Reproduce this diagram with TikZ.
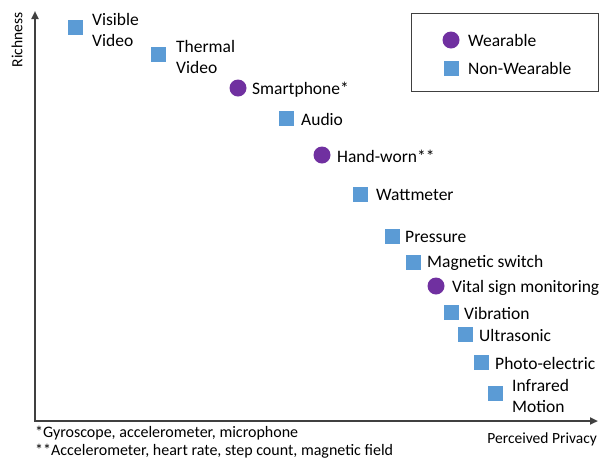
\documentclass[tikz,border=0pt]{standalone}
\usepackage{fontspec}
\setmainfont{Carlito}
\usetikzlibrary{arrows.meta}
\definecolor{nwblue}{HTML}{5B9BD5}
\definecolor{wpurple}{HTML}{7030A0}
\definecolor{axisgray}{HTML}{404040}
\begin{document}
\begin{tikzpicture}[x=1pt,y=-1pt,
  sq/.style={fill=nwblue,minimum size=15pt,inner sep=0pt},
  dot/.style={circle,fill=wpurple,minimum size=17pt,inner sep=0pt},
  lbl/.style={anchor=west,inner sep=0pt,font=\fontsize{17.5}{21.5}\selectfont,align=left},
  note/.style={anchor=west,inner sep=0pt,font=\fontsize{16}{18}\selectfont},
  axis/.style={draw=axisgray,line width=2pt,-{Triangle[length=8pt,width=7pt]}}]
\useasboundingbox (0,0) rectangle (600,459);
% axes
\coordinate (o) at (35,421);
\coordinate (ytop) at (35,11);
\coordinate (xend) at (598,421);
\draw[axis] (o) -- (ytop);
\draw[axis] ([xshift=-1pt]o) -- (xend);
\node[rotate=90,font=\fontsize{15.5}{18}\selectfont] (rich) at (17,40) {Richness};
\node[anchor=east,inner sep=0pt,font=\fontsize{15.5}{18}\selectfont] (priv) at (597,439) {Perceived Privacy};
% points
\node[sq] (p1) at (75,27) {};
\node[lbl] (t1) at (92,30) {Visible\\Video};
\node[sq] (p2) at (158,54) {};
\node[lbl] (t2) at (176,57) {Thermal\\Video};
\node[dot] (p3) at (238,88) {};
\node[lbl] (t3) at (252,90) {Smartphone*};
\node[sq] (p4) at (286,118) {};
\node[lbl] (t4) at (301,119) {Audio};
\node[dot] (p5) at (322,155) {};
\node[lbl] (t5) at (337,156) {Hand-worn**};
\node[sq] (p6) at (360,194) {};
\node[lbl] (t6) at (376,195) {Wattmeter};
\node[sq] (p7) at (392,236) {};
\node[lbl] (t7) at (405,237) {Pressure};
\node[sq] (p8) at (413,262) {};
\node[lbl] (t8) at (427,263) {Magnetic switch};
\node[dot] (p9) at (436,286) {};
\node[lbl] (t9) at (452,288) {Vital sign monitoring};
\node[sq] (p10) at (451,312) {};
\node[lbl] (t10) at (464,313) {Vibration};
\node[sq] (p11) at (465,334) {};
\node[lbl] (t11) at (479,335) {Ultrasonic};
\node[sq] (p12) at (481,362) {};
\node[lbl] (t12) at (495,363) {Photo-electric};
\node[sq] (p13) at (495,393) {};
\node[lbl] (t13) at (512,396) {Infrared\\Motion};
% legend
\node[draw=axisgray,line width=1.2pt,minimum width=187pt,minimum height=78pt,anchor=north west] (leg) at (411,13) {};
\node[dot] (lw) at (451,40) {};
\node[lbl] (lwt) at (468,40) {Wearable};
\node[sq] (ln) at (451,68) {};
\node[lbl] (lnt) at (468,68) {Non-Wearable};
% footnotes
\node[note] (f1) at (35,433) {*Gyroscope, accelerometer, microphone};
\node[note] (f2) at (35,451) {**Accelerometer, heart rate, step count, magnetic field};
\end{tikzpicture}
\end{document}
